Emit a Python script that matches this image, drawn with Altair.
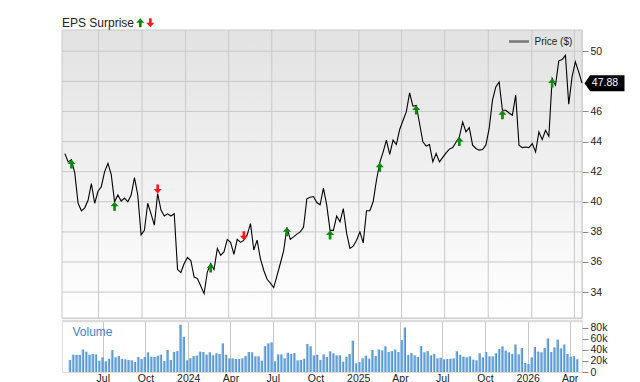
import altair as alt
import pandas as pd

# ---------------- data ----------------
week_start = "2023-04-21"
n_weeks = 157

price = [
    43.2, 42.65, 42.8, 41.9, 39.9, 39.4, 39.6, 40.1, 41.2, 39.9,
    40.7, 41.0, 42.0, 42.55, 41.8, 40.0, 40.45, 40.05, 40.25, 40.0,
    40.45, 41.6, 40.45, 37.8, 38.1, 39.9, 39.2, 38.45, 40.55, 39.45,
    39.05, 39.2, 39.05, 39.2, 35.5, 35.3, 35.9, 36.3, 36.1, 35.0,
    34.9, 34.4, 33.9, 35.35, 35.9, 35.5, 36.9, 36.45, 36.67, 37.5,
    37.3, 36.5, 37.5, 37.3, 37.45, 37.8, 38.55, 36.8, 37.45, 36.2,
    35.45, 34.85, 34.6, 34.3, 35.1, 35.9, 36.74, 38.3, 37.5, 37.67,
    37.85, 38.0, 38.3, 40.2, 40.3, 40.35, 39.95, 39.8, 40.9, 39.78,
    38.1, 38.1, 39.05, 38.67, 39.55, 37.9, 36.9, 37.05, 37.45, 38.0,
    37.27, 39.4, 39.4, 40.0, 41.43, 42.6, 43.3, 44.1, 43.15, 44.1,
    43.8, 44.8, 45.4, 45.97, 47.23, 46.35, 46.4, 45.2, 43.98, 43.7,
    43.8, 42.65, 43.2, 42.65, 42.95, 43.25, 43.5, 43.6, 43.95, 44.3,
    45.3, 44.64, 44.93, 43.76, 43.54, 43.43, 43.47, 43.76, 44.87, 46.75,
    47.63, 47.96, 46.08, 46.08, 45.9, 45.75, 47.08, 43.76, 43.6, 43.64,
    43.6, 43.86, 43.31, 44.64, 44.13, 44.75, 44.35, 48.19, 47.74, 49.36,
    49.45, 49.73, 46.48, 48.3, 49.29, 48.63, 47.88,
]

volume_k = [
    21.8, 31.5, 31, 31, 41, 37, 31.5, 32.7, 32, 20.6,
    26.7, 19.4, 24.2, 40, 26.7, 29, 23.6, 23, 21.8, 21.2,
    18.2, 27.3, 23.6, 27.3, 35.8, 27.9, 27.3, 29.7, 31.5, 20,
    40, 21.8, 36.4, 38, 86, 64, 21.2, 24.8, 29, 30,
    37, 36.4, 31.5, 35.8, 30.3, 34, 32.7, 52, 31.5, 24.8,
    24.8, 23.6, 23.6, 24.8, 29, 36.4, 35.8, 28.5, 28.5, 20.6,
    47, 52, 54, 19.4, 32, 32, 24.8, 35, 33, 34.5,
    21.2, 21.8, 24.2, 51, 46.7, 30.3, 31.5, 21.8, 32, 27.3,
    37.6, 34, 30.3, 30.3, 18.8, 27.9, 32.7, 57, 15.8, 18.2,
    24.8, 29.7, 24.2, 40, 29, 41, 39.4, 46.7, 36.4, 38,
    41, 36.4, 58, 81, 31, 34.5, 30.3, 27.3, 47, 35.8,
    38, 30.3, 33, 24.8, 26, 23, 23.6, 24.2, 24.8, 37.6,
    31.5, 27.9, 26.7, 28.5, 22.4, 21.2, 34, 26.7, 36.4, 28.5,
    28.5, 34, 41.8, 46.7, 38.8, 35.8, 33, 50, 32, 43.6,
    16.4, 14.5, 26.7, 45.5, 37, 35.8, 43.6, 61, 36.4, 44.8,
    58.8, 43, 50, 32.7, 27.9, 29, 23,
]

earn_dates = [
    "2023-05-05", "2023-08-04", "2023-11-03", "2024-02-23", "2024-05-03",
    "2024-08-02", "2024-11-01", "2025-02-14", "2025-05-02", "2025-08-01",
    "2025-10-31", "2026-02-13",
]
earn_dir = ["up", "up", "down", "up", "down", "up", "up", "up", "up", "up", "up", "up"]

price_ticks = [34, 36, 38, 40, 42, 44, 46, 48, 50]
price_labels = [34, 36, 38, 40, 42, 44, 46, 50]
grid_dates = [
    "2023-07-01", "2023-10-01", "2024-01-01", "2024-04-01", "2024-07-01",
    "2024-10-01", "2025-01-01", "2025-04-01", "2025-07-01", "2025-10-01",
    "2026-01-01", "2026-04-01",
]
vol_ticks = [0, 20000, 40000, 60000, 80000]

# ---------------- tables ----------------
dates = pd.date_range(week_start, periods=n_weeks, freq="7D").strftime("%Y-%m-%d").tolist()
df = pd.DataFrame({"date": dates, "price": price, "volume": [v * 1000 for v in volume_k]})
earn = pd.DataFrame({"date": earn_dates, "dir": earn_dir}).merge(df[["date", "price"]], on="date")
grid_df = pd.DataFrame({"date": grid_dates})
ptick_df = pd.DataFrame({"price": price_ticks})
last_df = pd.DataFrame({"date": [dates[-1]], "price": [price[-1]], "label": [f"{price[-1]:.2f}"]})
one = alt.Data(values=[{}])

FONT = "Liberation Sans"
W, H_P, H_V = 520, 288, 52
GRID = "#c8c8c8"
GREEN = "#0b8a0b"
RED = "#ff1a1a"

xscale = alt.Scale(
    type="utc",
    domain=[alt.DateTime(year=2023, month=4, date=15, utc=True),
            alt.DateTime(year=2026, month=4, date=17, utc=True)],
)
yscale = alt.Scale(domain=[32.28, 51.41], nice=False, zero=False)
price_axis = alt.Axis(
    orient="right", values=price_labels, title=None, grid=False, domain=False,
    tickSize=6, tickColor="#888888", labelPadding=2, labelFontSize=10.5,
    labelColor="#222222", labelFont=FONT)


def xe():
    return alt.X("date:T", scale=xscale, axis=None)


def ye():
    return alt.Y("price:Q", scale=yscale, axis=price_axis)


UP = "M0,0L0.45,0.5L0.15,0.5L0.15,1L-0.15,1L-0.15,0.5L-0.45,0.5Z"
DOWN = "M0,0L0.45,-0.5L0.15,-0.5L0.15,-1L-0.15,-1L-0.15,-0.5L-0.45,-0.5Z"
TAG = "M-1,0L-0.72,-0.4L1,-0.4L1,0.4L-0.72,0.4Z"

bg_grad = alt.LinearGradient(
    gradient="linear",
    stops=[alt.GradientStop(color="#e2e2e2", offset=0),
           alt.GradientStop(color="#ffffff", offset=1)],
    x1=0, x2=0, y1=0, y2=1,
)

bg = alt.Chart(one).mark_rect(fill=bg_grad, stroke=GRID, strokeWidth=1).encode(
    x=alt.value(0), x2=alt.value(W), y=alt.value(0), y2=alt.value(H_P)
)
hgrid = alt.Chart(ptick_df).mark_rule(color=GRID, strokeWidth=1).encode(y=ye())
vgrid = alt.Chart(grid_df).mark_rule(color=GRID, strokeWidth=1).encode(x=xe())

line = alt.Chart(df).mark_line(color="#000000", strokeWidth=1.1).encode(x=xe(), y=ye())
ups = alt.Chart(earn).transform_filter("datum.dir == 'up'").mark_point(
    shape=UP, size=324, filled=True, fill=GREEN, strokeWidth=0, opacity=1
).encode(x=xe(), y=ye())
downs = alt.Chart(earn).transform_filter("datum.dir == 'down'").mark_point(
    shape=DOWN, size=324, filled=True, fill=RED, strokeWidth=0, opacity=1
).encode(x=xe(), y=ye())

leg_rule = alt.Chart(one).mark_rule(color="#777777", strokeWidth=2.5).encode(
    x=alt.value(447), x2=alt.value(467), y=alt.value(11.5)
)
leg_text = alt.Chart(one).mark_text(
    text="Price ($)", align="left", baseline="middle", font=FONT, fontSize=10, color="#222222"
).encode(x=alt.value(472.5), y=alt.value(12))

title_text = alt.Chart(one).mark_text(
    text="EPS Surprise", align="left", baseline="top", font=FONT, fontSize=12, color="#222222"
).encode(x=alt.value(0), y=alt.value(-12))
t_up = alt.Chart(one).mark_point(shape=UP, size=324, filled=True, fill=GREEN, strokeWidth=0, opacity=1).encode(
    x=alt.value(78.3), y=alt.value(-11.7))
t_down = alt.Chart(one).mark_point(shape=DOWN, size=324, filled=True, fill=RED, strokeWidth=0, opacity=1).encode(
    x=alt.value(88.3), y=alt.value(-2.7))

tag = alt.Chart(last_df).mark_point(
    shape=TAG, size=1600, filled=True, fill="#000000", strokeWidth=0, opacity=1, xOffset=22.5
).encode(x=xe(), y=ye())
tag_text = alt.Chart(last_df).mark_text(
    align="center", baseline="middle", font=FONT, fontSize=10.5, color="#ffffff", dx=23
).encode(x=xe(), y=ye(), text="label:N")

price_chart = alt.layer(
    bg, hgrid, vgrid, line, ups, downs, leg_rule, leg_text, title_text, t_up, t_down, tag, tag_text
).properties(width=W, height=H_P)

# ---------------- volume ----------------
bar_grad = alt.LinearGradient(
    gradient="linear",
    stops=[alt.GradientStop(color="#b3d3f0", offset=0),
           alt.GradientStop(color="#6fa8dc", offset=0.45),
           alt.GradientStop(color="#3f86c9", offset=1)],
    x1=0, x2=1, y1=0, y2=0,
)
month_label = ("utcmonth(datum.value) == 0 ? utcFormat(datum.value, '%Y') : "
               "utcFormat(datum.value, '%b')")
xvals = [alt.DateTime(year=int(d[:4]), month=int(d[5:7]), date=1, utc=True) for d in grid_dates]

bars = alt.Chart(df).mark_bar(width=2.6, fill=bar_grad).encode(
    x=alt.X("date:T", scale=xscale, axis=alt.Axis(
        values=xvals, labelExpr=month_label, title=None, grid=True, gridColor=GRID,
        domain=False, ticks=False, tickSize=0, labelPadding=1, labelFontSize=10.5,
        labelColor="#222222", labelFont=FONT, labelFlush=False, labelOverlap=False)),
    y=alt.Y("volume:Q", scale=alt.Scale(domain=[0, 94500], nice=False), axis=alt.Axis(
        orient="right", values=vol_ticks, title=None, grid=False, domain=False,
        labelExpr="datum.value == 0 ? '0' : (datum.value / 1000) + 'k'",
        tickSize=6, tickColor="#888888", labelPadding=2, labelFontSize=10.5,
        labelColor="#222222", labelFont=FONT)),
)
sep = alt.Chart(one).mark_rule(color="#dcdcdc", strokeWidth=2.5).encode(y=alt.value(1))
vol_text = alt.Chart(one).mark_text(
    text="Volume", align="left", baseline="middle", font=FONT, fontSize=12, color="#3d87cc"
).encode(x=alt.value(10.5), y=alt.value(12))

vol_chart = alt.layer(bars, sep, vol_text).properties(width=W, height=H_V)

chart = alt.vconcat(price_chart, vol_chart, spacing=0).properties(
    padding={"left": 60, "top": 16, "right": 0, "bottom": 0},
    background="#ffffff",
).configure_view(stroke=GRID).configure(font=FONT)

chart.save("out.html", embed_options={"renderer": "svg", "actions": False})
